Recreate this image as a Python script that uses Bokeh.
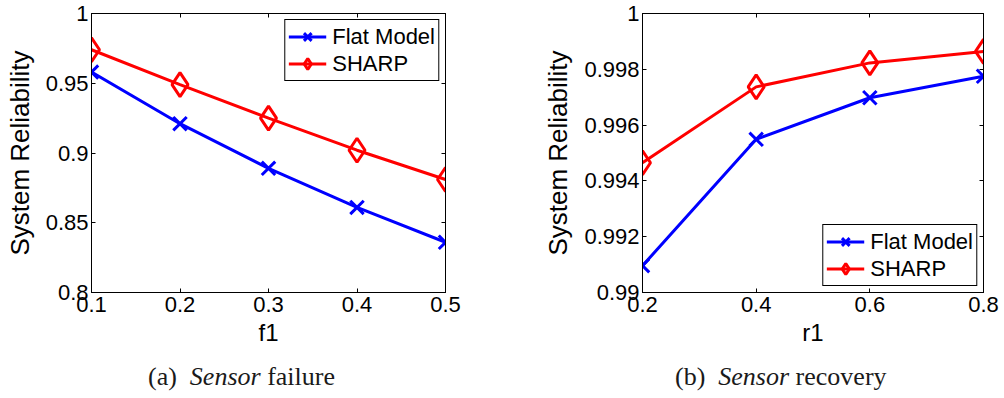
from bokeh.plotting import figure
from bokeh.models import (Range1d, FixedTicker, LinearAxis, Legend, LegendItem, Div,
                          CustomLabelingPolicy)
from bokeh.layouts import row, column
from bokeh.embed import file_html
from bokeh.resources import INLINE

# ---- data ----
f1_values = [0.1, 0.2, 0.3, 0.4, 0.5]
flat_failure = [0.958, 0.921, 0.889, 0.861, 0.836]
sharp_failure = [0.974, 0.949, 0.925, 0.902, 0.881]

r1_values = [0.2, 0.4, 0.6, 0.8]
flat_recovery = [0.99096, 0.99549, 0.99698, 0.99775]
sharp_recovery = [0.99465, 0.99737, 0.99823, 0.99864]

yticks_a = [0.8, 0.85, 0.9, 0.95, 1.0]
ylabels_a = ["0.8", "0.85", "0.9", "0.95", "1"]
yticks_b = [0.99, 0.992, 0.994, 0.996, 0.998, 1.0]
ylabels_b = ["0.99", "0.992", "0.994", "0.996", "0.998", "1"]
xticks_a = [0.1, 0.2, 0.3, 0.4, 0.5]
xticks_b = [0.2, 0.4, 0.6, 0.8]

series_names = ["Flat Model", "SHARP"]
caption_a = ["(a)", "Sensor", "failure"]
caption_b = ["(b)", "Sensor", "recovery"]

SANS = "Liberation Sans"
SERIF = "Liberation Serif"
TICK_FS = "22px"
TOP_B = 13
FRAME_H = 279
BOTTOM_B = 60
MAIN_H = TOP_B + FRAME_H + BOTTOM_B
CAP_H = 42

NO_LABELS = CustomLabelingPolicy(code="""
for (const i of indices) {
    indices.unset(i)
}
return indices
""")


def style_axis(ax, ticks, labels=None, show_labels=True):
    ax.ticker = FixedTicker(ticks=ticks)
    ax.major_tick_in = 4
    ax.major_tick_out = 0
    ax.minor_tick_in = 0
    ax.minor_tick_out = 0
    ax.axis_line_color = "black"
    ax.major_tick_line_color = "black"
    if labels is not None:
        ax.major_label_overrides = {t: l for t, l in zip(ticks, labels)}
    if show_labels:
        ax.major_label_text_font = SANS
        ax.major_label_text_font_size = TICK_FS
        ax.major_label_text_color = "black"
        ax.major_label_standoff = 3
    else:
        ax.major_label_text_font_size = "0px"
        ax.major_label_policy = NO_LABELS
        ax.major_label_standoff = 0


def make_panel(width, xs, flat, sharp, xr, yr, xticks, yticks, ylabels, xlabel,
               bl, br, legend_loc, caption, cap_left):
    p = figure(width=width, height=MAIN_H, x_range=Range1d(*xr), y_range=Range1d(*yr),
               output_backend="svg", toolbar_location=None,
               min_border_left=bl, min_border_right=br,
               min_border_top=TOP_B, min_border_bottom=BOTTOM_B)
    p.xgrid.visible = False
    p.ygrid.visible = False
    p.outline_line_color = "black"
    p.outline_line_alpha = 1.0
    p.outline_line_width = 1
    p.background_fill_color = "white"
    p.border_fill_color = "white"

    style_axis(p.xaxis[0], xticks)
    p.xaxis[0].major_label_standoff = 4
    style_axis(p.yaxis[0], yticks, ylabels)
    for ax in (p.xaxis[0], p.yaxis[0]):
        ax.axis_label_text_font = SANS
        ax.axis_label_text_font_style = "normal"
        ax.axis_label_text_color = "black"
    p.xaxis[0].axis_label = xlabel
    p.xaxis[0].axis_label_text_font_size = "24px"
    p.xaxis[0].axis_label_standoff = 4
    p.yaxis[0].axis_label = "System Reliability"
    p.yaxis[0].axis_label_text_font_size = "26px"
    p.yaxis[0].axis_label_standoff = 8

    rax = LinearAxis()
    style_axis(rax, yticks, show_labels=False)
    p.add_layout(rax, "right")
    tax = LinearAxis()
    style_axis(tax, xticks, show_labels=False)
    p.add_layout(tax, "above")

    l1 = p.line(xs, flat, line_color="#0000ff", line_width=3)
    s1 = p.scatter(xs, flat, marker="x", size=19, line_color="#0000ff", line_width=3)
    l2 = p.line(xs, sharp, line_color="#ff0000", line_width=3)
    s2 = p.scatter(xs, sharp, marker="diamond", size=24, line_color="#ff0000",
                   fill_color=None, line_width=3)

    legend = Legend(items=[LegendItem(label=series_names[0], renderers=[l1, s1]),
                           LegendItem(label=series_names[1], renderers=[l2, s2])],
                    location=legend_loc)
    legend.label_text_font = SANS
    legend.label_text_font_size = "22px"
    legend.label_text_color = "black"
    legend.border_line_color = "black"
    legend.border_line_width = 1
    legend.border_line_alpha = 1.0
    legend.background_fill_color = "white"
    legend.background_fill_alpha = 1.0
    legend.glyph_width = 38
    legend.glyph_height = 27
    legend.label_height = 27
    legend.label_standoff = 6
    legend.padding = 3
    legend.spacing = 0
    legend.margin = 6
    p.add_layout(legend)

    html = (
        f'<div style="padding-left:{cap_left}px; padding-top:12px; white-space:nowrap; '
        f'font-family:\'{SERIF}\'; font-size:26px; line-height:26px; color:#1a1a1a;">'
        f'{caption[0]}&nbsp;&nbsp;<i>{caption[1]}</i> {caption[2]}</div>'
    )
    cap = Div(text=html, width=width, height=CAP_H, margin=(0, 0, 0, 0))
    return column(p, cap, spacing=0)


pa = make_panel(539, f1_values, flat_failure, sharp_failure, (0.1, 0.5), (0.8, 1.0),
                xticks_a, yticks_a, ylabels_a, "f1", 91, 94, "top_right",
                caption_a, 148)
pb = make_panel(461, r1_values, flat_recovery, sharp_recovery, (0.2, 0.8), (0.99, 1.0),
                xticks_b, yticks_b, ylabels_b, "r1", 103, 17, "bottom_right",
                caption_b, 136)

layout = row(pa, pb, spacing=0)
open("out.html", "w").write(file_html(layout, INLINE))
